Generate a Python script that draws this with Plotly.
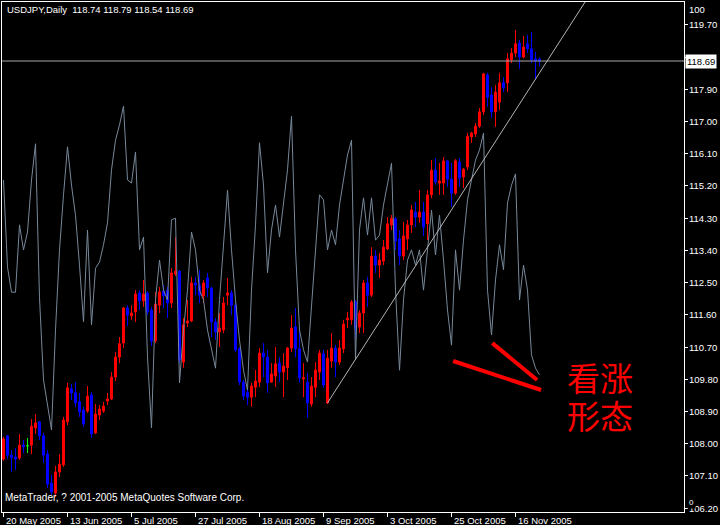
import plotly.graph_objects as go

# ---------------- data ----------------
TITLE = "USDJPY,Daily  118.74 118.79 118.54 118.69"
COPYRIGHT = "MetaTrader, ? 2001-2005 MetaQuotes Software Corp."
DATE_TICK_BARS = [0, 16, 32, 48, 64, 80, 96, 112, 128]
DATE_TICK_LABELS = ["20 May 2005", "13 Jun 2005", "5 Jul 2005", "27 Jul 2005", "18 Aug 2005",
                    "9 Sep 2005", "3 Oct 2005", "25 Oct 2005", "16 Nov 2005"]
PRICE_TICKS = [106.20, 107.10, 108.00, 108.90, 109.80, 110.70, 111.60, 112.50, 113.40,
               114.30, 115.20, 116.10, 117.00, 117.90, 118.80, 119.70]
HIDDEN_TICK = 118.80   # covered by the last-price box
LAST_PRICE = 118.69
NOTE_TEXT = ["看涨", "形态"]

open_ = [107.57, 108.22, 107.68, 107.63, 107.60, 107.96, 107.94, 107.96, 108.44, 108.61,
         108.22, 107.71, 106.90, 106.62, 107.21, 107.41, 108.61, 109.53, 109.42, 109.17,
         108.94, 108.91, 109.36, 108.30, 108.80, 108.91, 109.19, 109.25, 109.86, 110.42,
         110.81, 111.79, 111.57, 111.68, 112.21, 111.99, 112.21, 111.73, 110.87, 111.87,
         112.26, 112.29, 111.93, 112.74, 112.82, 110.28, 111.37, 111.43, 112.49, 112.43,
         112.13, 112.63, 112.35, 111.40, 111.12, 111.18, 112.15, 112.21, 111.87, 110.65,
         109.72, 109.44, 109.30, 109.58, 109.72, 110.53, 110.42, 109.72, 109.89, 110.25,
         110.00, 110.12, 110.67, 111.26, 110.65, 109.81, 109.72, 109.11, 109.58, 110.00,
         110.51, 109.14, 110.31, 110.67, 110.28, 110.65, 111.46, 111.46, 111.96, 111.26,
         111.65, 112.49, 112.15, 113.24, 112.99, 113.10, 113.44, 114.11, 114.28, 113.72,
         113.24, 113.72, 114.11, 114.47, 114.33, 114.47, 114.14, 114.95, 115.64, 115.28,
         115.28, 115.90, 115.39, 115.00, 115.87, 115.45, 115.73, 116.57, 116.65, 116.87,
         117.27, 118.30, 117.74, 117.27, 117.54, 118.08, 118.08, 118.72, 118.91, 119.19,
         118.80, 119.17, 119.03, 118.75, 118.74]
high = [108.19, 108.24, 107.82, 107.88, 108.27, 108.10, 108.16, 108.69, 108.83, 108.63,
        108.30, 107.82, 107.13, 107.38, 107.71, 108.75, 109.70, 109.67, 109.72, 109.42,
        109.03, 109.61, 109.44, 109.11, 109.08, 109.17, 109.42, 110.00, 110.56, 110.98,
        111.82, 111.87, 111.87, 112.29, 112.29, 112.57, 112.26, 111.82, 112.24, 112.38,
        112.43, 112.38, 112.91, 113.77, 112.85, 111.51, 112.01, 112.66, 112.66, 112.85,
        112.57, 112.77, 112.38, 111.51, 111.65, 112.10, 112.63, 112.29, 111.93, 110.70,
        109.78, 109.50, 109.70, 110.06, 110.67, 110.81, 110.62, 110.25, 110.70, 110.42,
        110.53, 110.70, 111.59, 111.79, 111.18, 110.25, 109.98, 109.86, 110.28, 110.62,
        110.62, 110.62, 111.09, 110.76, 110.90, 111.46, 111.68, 112.01, 112.01, 111.73,
        112.57, 112.66, 113.49, 113.41, 113.33, 113.69, 114.33, 114.39, 114.33, 113.97,
        114.19, 114.25, 114.67, 114.75, 115.09, 114.75, 115.09, 115.92, 115.98, 115.84,
        116.01, 115.92, 115.84, 115.95, 115.98, 115.70, 116.68, 116.71, 116.96, 117.38,
        118.36, 118.36, 117.96, 118.02, 118.36, 118.24, 118.91, 119.05, 119.56, 119.28,
        119.39, 119.42, 119.50, 118.94, 118.79]
low = [107.52, 107.57, 107.21, 107.27, 107.55, 107.74, 107.74, 107.71, 108.27, 108.10,
       107.46, 106.76, 106.57, 106.51, 107.07, 107.35, 108.52, 109.22, 109.03, 108.75,
       108.47, 108.86, 108.16, 108.27, 108.66, 108.86, 109.08, 109.22, 109.75, 110.25,
       110.67, 111.29, 111.46, 111.40, 111.73, 111.82, 111.59, 110.73, 110.81, 111.65,
       111.79, 111.51, 111.79, 112.68, 110.25, 110.12, 111.26, 111.40, 112.15, 111.93,
       111.93, 112.10, 110.98, 110.90, 110.70, 111.09, 111.87, 111.59, 110.56, 109.64,
       109.22, 109.08, 109.03, 109.30, 109.58, 109.86, 109.42, 109.70, 109.58, 109.72,
       109.30, 109.78, 110.56, 110.42, 109.70, 109.30, 108.72, 109.03, 109.30, 109.78,
       109.56, 109.11, 110.12, 109.86, 110.20, 110.53, 111.23, 111.32, 110.95, 111.09,
       111.09, 111.82, 112.10, 112.77, 112.63, 112.99, 113.41, 113.97, 113.41, 112.99,
       113.13, 113.41, 113.89, 114.05, 114.17, 113.80, 113.69, 114.86, 115.23, 114.95,
       114.95, 115.17, 114.61, 114.95, 115.17, 115.14, 115.64, 116.40, 116.57, 116.82,
       117.18, 117.41, 117.10, 116.85, 117.32, 117.82, 117.82, 118.63, 118.80, 118.47,
       118.77, 118.91, 118.63, 118.16, 118.54]
close = [108.13, 107.68, 107.61, 107.57, 107.96, 107.91, 107.94, 108.49, 108.58, 108.22,
         107.68, 106.87, 106.65, 107.21, 107.43, 108.66, 109.56, 109.42, 109.14, 108.89,
         108.55, 109.33, 108.27, 108.83, 108.97, 109.05, 109.25, 109.86, 110.42, 110.79,
         111.79, 111.59, 111.65, 112.18, 111.99, 112.18, 111.68, 110.87, 111.90, 112.24,
         112.13, 111.93, 112.77, 112.82, 110.34, 111.32, 111.43, 112.49, 112.43, 112.15,
         112.49, 112.35, 111.40, 111.12, 111.23, 111.93, 112.21, 111.87, 110.62, 109.72,
         109.33, 109.30, 109.61, 109.75, 110.53, 110.42, 109.70, 109.95, 110.23, 110.00,
         110.17, 110.67, 111.23, 110.65, 109.84, 109.84, 109.14, 109.61, 110.06, 110.53,
         109.64, 110.39, 110.67, 110.28, 110.67, 111.34, 111.51, 111.96, 111.23, 111.65,
         112.49, 112.15, 113.24, 112.99, 113.13, 113.49, 114.14, 114.30, 113.66, 113.24,
         113.80, 114.11, 114.53, 114.33, 114.47, 114.05, 114.95, 115.64, 115.31, 115.34,
         115.90, 115.39, 115.00, 115.90, 115.42, 115.67, 116.59, 116.68, 116.87, 117.27,
         118.33, 117.68, 117.27, 117.82, 118.08, 117.94, 118.75, 118.91, 119.17, 118.80,
         119.08, 119.03, 118.72, 118.69, 118.69]
osc = [65.1, 48.0, 43.1, 43.1, 56.3, 51.4, 54.9, 65.1, 72.2, 42.0,
       25.9, 20.6, 16.1, 35.7, 51.4, 62.2, 71.6, 64.1, 58.2, 48.4,
       37.3, 55.3, 36.7, 47.8, 49.0, 52.4, 56.7, 67.1, 72.9, 75.9,
       79.6, 65.1, 64.5, 70.6, 51.4, 53.9, 30.4, 16.5, 41.6, 49.4,
       43.5, 41.6, 57.3, 57.6, 25.3, 35.7, 43.5, 54.9, 51.4, 43.5,
       41.6, 35.7, 31.8, 28.2, 41.6, 53.3, 63.1, 51.4, 41.6, 33.7,
       27.8, 23.9, 43.5, 56.3, 72.4, 64.1, 46.9, 55.3, 60.2, 53.9,
       60.2, 67.1, 77.6, 51.4, 35.7, 31.8, 29.4, 40.2, 51.4, 62.2,
       61.2, 51.4, 55.3, 52.4, 60.2, 65.1, 70.0, 72.9, 29.8, 55.3,
       61.6, 54.3, 61.6, 53.3, 54.3, 60.2, 64.1, 68.4, 43.5, 27.8,
       41.6, 49.4, 51.4, 48.4, 51.4, 43.5, 51.4, 59.2, 50.4, 58.2,
       49.4, 39.6, 32.7, 51.4, 43.5, 53.3, 61.2, 65.1, 69.0, 71.0,
       74.3, 43.5, 34.7, 45.5, 52.4, 47.5, 60.6, 64.1, 66.3, 41.6,
       48.4, 43.5, 30.8, 28.2, 26.9]

# hand-drawn objects on the chart (bar index, price)
TREND_LINE = [(81, 109.14), (145.4, 120.34)]
RED_LINES = [[(112.4, 110.31), (134.4, 109.50)],
             [(122.2, 110.81), (133.4, 109.78)]]

# ---------------- figure ----------------
bars = list(range(len(open_)))
normal = [i for i in bars if open_[i] != close[i]]
doji = [i for i in bars if open_[i] == close[i]]

FONT = "Liberation Sans, Arial, sans-serif"
X_RANGE = [-0.375, 170.125]
Y_RANGE = [106.092, 120.338]
PLOT_W = 682.0   # plot area width in px (used to place right-side labels)

fig = go.Figure()
fig.add_trace(go.Candlestick(
    x=[bars[i] for i in normal], open=[open_[i] for i in normal], high=[high[i] for i in normal],
    low=[low[i] for i in normal], close=[close[i] for i in normal],
    increasing=dict(line=dict(color="#ff0000", width=1), fillcolor="#ff0000"),
    decreasing=dict(line=dict(color="#0000ff", width=1), fillcolor="#0000ff"),
    whiskerwidth=0, hoverinfo="skip", showlegend=False))
fig.add_trace(go.Candlestick(
    x=[bars[i] for i in doji], open=[open_[i] for i in doji], high=[high[i] for i in doji],
    low=[low[i] for i in doji], close=[close[i] for i in doji],
    increasing=dict(line=dict(color="#00ff00", width=1), fillcolor="#00ff00"),
    decreasing=dict(line=dict(color="#00ff00", width=1), fillcolor="#00ff00"),
    whiskerwidth=0, hoverinfo="skip", showlegend=False))
fig.add_trace(go.Scatter(x=bars, y=osc, yaxis="y2", mode="lines",
                         line=dict(color="#778899", width=1), hoverinfo="skip", showlegend=False))

shapes = [
    dict(type="line", xref="paper", yref="y", x0=0, x1=1, y0=LAST_PRICE, y1=LAST_PRICE,
         line=dict(color="#a8a8a8", width=1)),
    dict(type="line", xref="x", yref="y", x0=TREND_LINE[0][0], y0=TREND_LINE[0][1],
         x1=TREND_LINE[1][0], y1=TREND_LINE[1][1], line=dict(color="#b4b4b4", width=1)),
]
for (a, b) in RED_LINES:
    shapes.append(dict(type="line", xref="x", yref="y", x0=a[0], y0=a[1], x1=b[0], y1=b[1],
                       line=dict(color="#ff0000", width=4)))

label_x = 1 + 3.0 / PLOT_W
annotations = [
    dict(text=TITLE, xref="paper", yref="paper", x=0.004, y=1.0, xanchor="left", yanchor="top",
         showarrow=False, font=dict(family=FONT, size=9.5, color="white")),
    dict(text=COPYRIGHT, xref="paper", yref="paper", x=0.002, y=0.028, xanchor="left",
         yanchor="middle", showarrow=False, font=dict(family=FONT, size=10, color="white")),
]
for v in PRICE_TICKS:
    if v == HIDDEN_TICK:
        continue
    annotations.append(dict(text=f"{v:.2f}", xref="paper", yref="y", x=label_x, y=v,
                            xanchor="left", yanchor="middle", showarrow=False,
                            font=dict(family=FONT, size=9.5, color="white")))
annotations += [
    dict(text=f"{LAST_PRICE:.2f}", xref="paper", yref="y", x=1 + 1.0 / PLOT_W, y=LAST_PRICE,
         xanchor="left", yanchor="middle", showarrow=False, bgcolor="white", borderpad=1,
         font=dict(family=FONT, size=9.5, color="black")),
    dict(text="100", xref="paper", yref="paper", x=label_x, y=0.985, xanchor="left",
         yanchor="middle", showarrow=False, font=dict(family=FONT, size=9.5, color="white")),
    dict(text="0", xref="paper", yref="paper", x=label_x, y=0.018, xanchor="left",
         yanchor="middle", showarrow=False, bgcolor="#000000",
         font=dict(family=FONT, size=8, color="white")),
]
for b, lab in zip(DATE_TICK_BARS, DATE_TICK_LABELS):
    annotations.append(dict(text=lab, xref="x", yref="paper", x=b, y=-0.002, xanchor="left",
                            yanchor="top", showarrow=False,
                            font=dict(family=FONT, size=9.5, color="white")))
for txt, yy in zip(NOTE_TEXT, [0.265, 0.19]):
    annotations.append(dict(text=txt, xref="paper", yref="paper", x=0.877, y=yy, xanchor="center",
                            yanchor="middle", showarrow=False,
                            font=dict(family="Noto Sans CJK SC", size=33, color="#ff0000")))

fig.update_layout(
    width=720, height=525, margin=dict(l=2, r=36, t=2, b=13, autoexpand=False),
    paper_bgcolor="#000000", plot_bgcolor="#000000",
    showlegend=False, shapes=shapes, annotations=annotations,
    xaxis=dict(range=X_RANGE, showgrid=False, zeroline=False, showline=True, linecolor="white",
               linewidth=1, mirror=True, ticks="outside", tickvals=DATE_TICK_BARS, ticklen=4,
               tickcolor="white", showticklabels=False, rangeslider=dict(visible=False),
               fixedrange=True),
    yaxis=dict(range=Y_RANGE, side="right", showgrid=False, zeroline=False, showline=True,
               linecolor="white", linewidth=1, mirror=True, ticks="outside", ticklen=3,
               tickcolor="white", tickvals=PRICE_TICKS, showticklabels=False, fixedrange=True),
    yaxis2=dict(range=[0, 100], overlaying="y", visible=False, fixedrange=True),
)

fig.write_html(
    "out.html",
    config={"displayModeBar": False, "staticPlot": True},
    post_script="document.body.style.margin='0';document.body.style.padding='0';"
                "document.body.style.overflow='hidden';",
)
